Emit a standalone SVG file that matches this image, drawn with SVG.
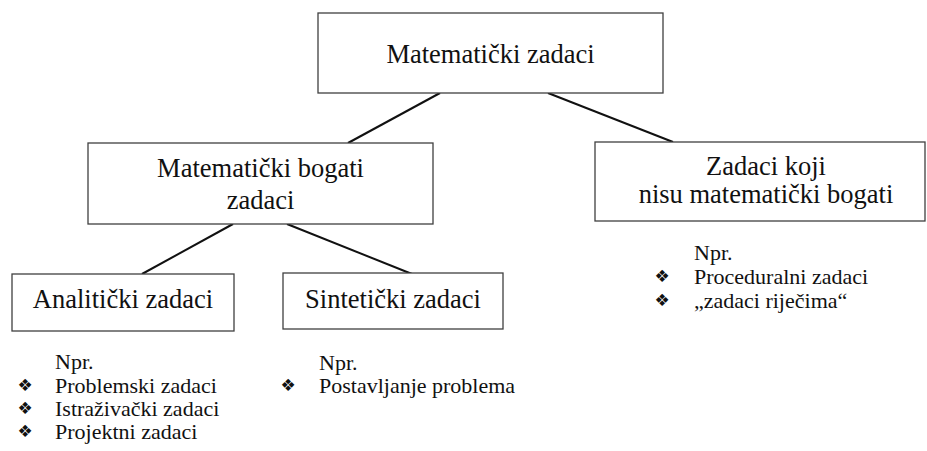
<svg xmlns="http://www.w3.org/2000/svg" width="927" height="451" viewBox="0 0 927 451">
<style>
.box{fill:#fff;stroke:#404040;stroke-width:1.3}
.t{font-family:'Liberation Serif','Times New Roman',serif;font-size:26.5px;fill:#111;text-anchor:middle}
.l{font-family:'Liberation Serif','Times New Roman',serif;font-size:22px;fill:#111}
.b{font-family:'DejaVu Sans',sans-serif;font-size:17px;fill:#111;text-anchor:middle}
.c{stroke:#111;stroke-width:2;fill:none}
</style>
<rect width="927" height="451" fill="#fff"/>
<g id="connectors">
<line class="c" x1="440" y1="93" x2="348" y2="143"/>
<line class="c" x1="548" y1="93" x2="673" y2="142"/>
<line class="c" x1="233" y1="224" x2="142" y2="274"/>
<line class="c" x1="287" y1="224" x2="412" y2="274"/>
</g>
<g id="root">
<rect class="box" x="318" y="13" width="345" height="80"/>
<text class="t" x="490.5" y="63">Matematički zadaci</text>
</g>
<g id="bogati">
<rect class="box" x="88" y="143" width="345" height="81"/>
<text class="t" x="260.5" y="177">Matematički bogati</text>
<text class="t" x="260.5" y="209">zadaci</text>
</g>
<g id="nisu-bogati">
<rect class="box" x="595" y="142" width="330" height="79"/>
<text class="t" x="766" y="175">Zadaci koji</text>
<text class="t" x="766" y="203">nisu matematički bogati</text>
</g>
<g id="analiticki">
<rect class="box" x="12" y="274" width="222" height="57"/>
<text class="t" x="123" y="308">Analitički zadaci</text>
</g>
<g id="sinteticki">
<rect class="box" x="283" y="273" width="220" height="56"/>
<text class="t" x="393" y="308">Sintetički zadaci</text>
</g>
<g id="list-analiticki">
<text class="l" x="55" y="369">Npr.</text>
<text class="b" x="25" y="391">❖</text><text class="l" x="55" y="393">Problemski zadaci</text>
<text class="b" x="25" y="414">❖</text><text class="l" x="55" y="416">Istraživački zadaci</text>
<text class="b" x="25" y="437">❖</text><text class="l" x="55" y="439">Projektni zadaci</text>
</g>
<g id="list-sinteticki">
<text class="l" x="319" y="370">Npr.</text>
<text class="b" x="288" y="391">❖</text><text class="l" x="319" y="393">Postavljanje problema</text>
</g>
<g id="list-nisu">
<text class="l" x="694" y="260">Npr.</text>
<text class="b" x="662" y="282">❖</text><text class="l" x="694" y="284">Proceduralni zadaci</text>
<text class="b" x="662" y="306">❖</text><text class="l" x="694" y="308">„zadaci riječima“</text>
</g>
</svg>
